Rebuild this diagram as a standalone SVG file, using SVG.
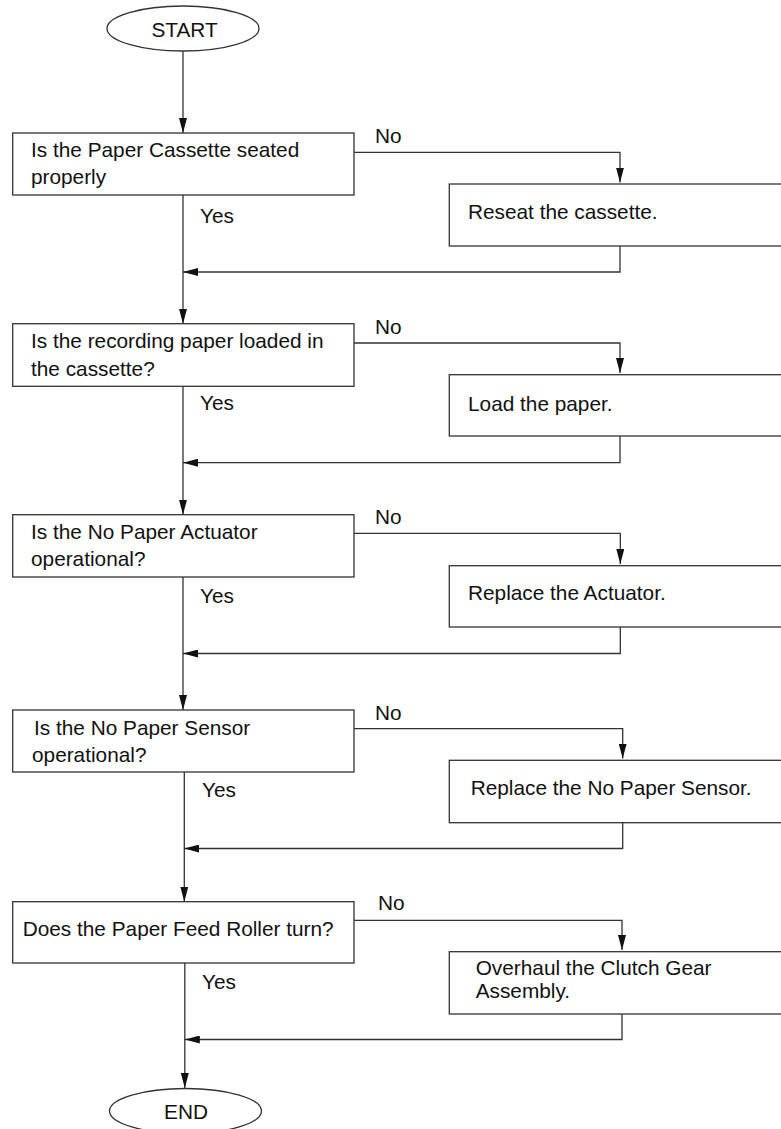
<svg xmlns="http://www.w3.org/2000/svg" width="781" height="1129" viewBox="0 0 781 1129">
<style>
  .bx{fill:#fff;stroke:#333;stroke-width:1.3}
  .ln{fill:none;stroke:#333;stroke-width:1.3}
  .t{font-family:"Liberation Sans",Arial,sans-serif;font-size:20.8px;fill:#111}
  .c{text-anchor:middle}
</style>
<defs>
  <marker id="ah" markerWidth="15" markerHeight="8" refX="15" refY="4" orient="auto" markerUnits="userSpaceOnUse">
    <path d="M0,0 L15,4 L0,8 Z" fill="#111"/>
  </marker>
</defs>
<rect width="781" height="1129" fill="#fff"/>
<g id="connectors">
  <!-- main spine -->
  <line class="ln" x1="183" y1="51" x2="183" y2="133" marker-end="url(#ah)"/>
  <line class="ln" x1="183" y1="195" x2="183" y2="323.7" marker-end="url(#ah)"/>
  <line class="ln" x1="183" y1="386.3" x2="183" y2="514.7" marker-end="url(#ah)"/>
  <line class="ln" x1="183" y1="577" x2="183" y2="710" marker-end="url(#ah)"/>
  <line class="ln" x1="184.3" y1="772" x2="184.3" y2="901.7" marker-end="url(#ah)"/>
  <line class="ln" x1="184.8" y1="963" x2="184.8" y2="1088" marker-end="url(#ah)"/>
  <!-- No branches -->
  <path class="ln" d="M354,152.3 H620 V182.5" marker-end="url(#ah)"/>
  <path class="ln" d="M354,343 H620 V373" marker-end="url(#ah)"/>
  <path class="ln" d="M354,533.3 H620.3 V564" marker-end="url(#ah)"/>
  <path class="ln" d="M354,728.7 H622.7 V758.6" marker-end="url(#ah)"/>
  <path class="ln" d="M354,920.3 H622 V950" marker-end="url(#ah)"/>
  <!-- returns -->
  <path class="ln" d="M620,246 V272 H183" marker-end="url(#ah)"/>
  <path class="ln" d="M620,436 V462.7 H183" marker-end="url(#ah)"/>
  <path class="ln" d="M620.3,627 V653.5 H183" marker-end="url(#ah)"/>
  <path class="ln" d="M622.7,822.7 V848.5 H184.3" marker-end="url(#ah)"/>
  <path class="ln" d="M622,1014 V1039.5 H184.8" marker-end="url(#ah)"/>
  <!-- labels -->
  <text class="t" x="375" y="143">No</text>
  <text class="t" x="200" y="223">Yes</text>
  <text class="t" x="375" y="334">No</text>
  <text class="t" x="200" y="410">Yes</text>
  <text class="t" x="375" y="523.5">No</text>
  <text class="t" x="200" y="603">Yes</text>
  <text class="t" x="375" y="719.5">No</text>
  <text class="t" x="202" y="797">Yes</text>
  <text class="t" x="378" y="910">No</text>
  <text class="t" x="202" y="989">Yes</text>
</g>
<g id="start">
  <ellipse class="bx" cx="183" cy="28.5" rx="76" ry="22.5"/>
  <text class="t c" x="184.5" y="37.3">START</text>
</g>
<g id="q1">
  <rect class="bx" x="12.7" y="133" width="341.3" height="62"/>
  <text class="t" x="31" y="157">Is the Paper Cassette seated</text>
  <text class="t" x="31" y="184">properly</text>
</g>
<g id="a1">
  <rect class="bx" x="449.3" y="184" width="360" height="62"/>
  <text class="t" x="468" y="219">Reseat the cassette.</text>
</g>
<g id="q2">
  <rect class="bx" x="12.7" y="323.7" width="341.3" height="62.6"/>
  <text class="t" x="31" y="348">Is the recording paper loaded in</text>
  <text class="t" x="31" y="376">the cassette?</text>
</g>
<g id="a2">
  <rect class="bx" x="449.3" y="374.7" width="360" height="61.3"/>
  <text class="t" x="468" y="410.7">Load the paper.</text>
</g>
<g id="q3">
  <rect class="bx" x="12.7" y="514.7" width="341.3" height="62.3"/>
  <text class="t" x="31" y="539">Is the No Paper Actuator</text>
  <text class="t" x="31" y="566">operational?</text>
</g>
<g id="a3">
  <rect class="bx" x="449.3" y="565.7" width="360" height="61.3"/>
  <text class="t" x="468" y="600">Replace the Actuator.</text>
</g>
<g id="q4">
  <rect class="bx" x="12.7" y="710" width="341.3" height="62"/>
  <text class="t" x="34" y="735">Is the No Paper Sensor</text>
  <text class="t" x="32" y="761.7">operational?</text>
</g>
<g id="a4">
  <rect class="bx" x="449.3" y="760.3" width="360" height="62.4"/>
  <text class="t" x="470.7" y="795">Replace the No Paper Sensor.</text>
</g>
<g id="q5">
  <rect class="bx" x="12.7" y="901.7" width="341.3" height="61.3"/>
  <text class="t" x="22.7" y="935.7">Does the Paper Feed Roller turn?</text>
</g>
<g id="a5">
  <rect class="bx" x="449.3" y="951.7" width="360" height="62.3"/>
  <text class="t" x="475.7" y="975">Overhaul the Clutch Gear</text>
  <text class="t" x="475.7" y="998.3">Assembly.</text>
</g>
<g id="end">
  <ellipse class="bx" cx="185.5" cy="1111" rx="76" ry="22.5"/>
  <text class="t c" x="186" y="1119">END</text>
</g>
</svg>
